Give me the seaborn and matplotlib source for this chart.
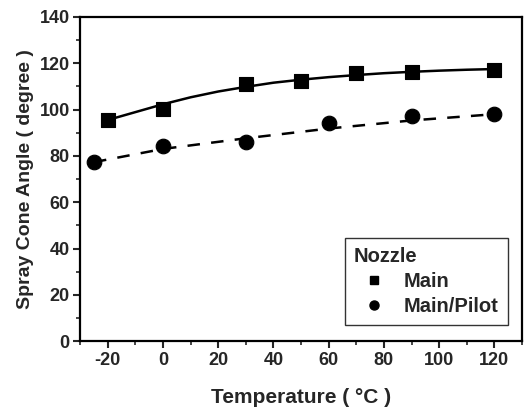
import numpy as np
import pandas as pd
import matplotlib
matplotlib.use('Agg')
import matplotlib.pyplot as plt
from matplotlib.lines import Line2D
from matplotlib.ticker import MultipleLocator
import seaborn as sns

# 測定点
temp_main = [-20, 0, 30, 50, 70, 90, 120]
angle_main = [95.6, 100.3, 110.9, 112.2, 116.0, 116.3, 117.2]
temp_pilot = [-25, 0, 30, 60, 90, 120]
angle_pilot = [77.2, 84.3, 86.1, 94.0, 97.1, 97.9]

# フィット曲線
fit_temp_main = [-20, 0, 10, 20, 30, 40, 50, 60, 70, 80, 90, 100, 110, 120]
fit_angle_main = [95.5, 102.3, 105.3, 107.8, 109.8, 111.6, 112.9, 114.0, 114.9, 115.7, 116.3, 116.8, 117.2, 117.5]
fit_temp_pilot = [-25, 0, 30, 60, 90, 120]
fit_angle_pilot = [77.3, 83.0, 87.6, 91.8, 95.3, 98.0]

sns.set_style('ticks')
plt.rcParams['font.family'] = ['Liberation Sans', 'DejaVu Sans']
plt.rcParams['font.weight'] = 'bold'
plt.rcParams['axes.unicode_minus'] = False

df_main = pd.DataFrame({'t': temp_main, 'a': angle_main})
df_pilot = pd.DataFrame({'t': temp_pilot, 'a': angle_pilot})
df_fit_main = pd.DataFrame({'t': fit_temp_main, 'a': fit_angle_main})
df_fit_pilot = pd.DataFrame({'t': fit_temp_pilot, 'a': fit_angle_pilot})

fig, ax = plt.subplots(figsize=(5.31, 4.13), dpi=100)
fig.subplots_adjust(left=0.151, right=0.983, top=0.959, bottom=0.174)

sns.lineplot(data=df_fit_main, x='t', y='a', color='black', lw=1.8, ax=ax)
sns.lineplot(data=df_fit_pilot, x='t', y='a', color='black', lw=1.8, ax=ax, dashes=False)
ax.lines[-1].set_linestyle((0, (5, 4.5)))
sns.scatterplot(data=df_main, x='t', y='a', marker='s', s=100, color='black', edgecolor='black', ax=ax, zorder=3)
sns.scatterplot(data=df_pilot, x='t', y='a', marker='o', s=110, color='black', edgecolor='black', ax=ax, zorder=3)

ax.set_xlim(-30, 130)
ax.set_ylim(0, 140)
ax.xaxis.set_major_locator(MultipleLocator(20))
ax.xaxis.set_minor_locator(MultipleLocator(10))
ax.yaxis.set_major_locator(MultipleLocator(20))
ax.yaxis.set_minor_locator(MultipleLocator(10))
ax.tick_params(axis='both', which='major', direction='out', length=5, width=1.5, labelsize=13, pad=2.5)
ax.tick_params(axis='both', which='minor', direction='out', length=3, width=1.2)
for lab in ax.get_xticklabels() + ax.get_yticklabels():
    lab.set_fontweight('bold')
for sp in ax.spines.values():
    sp.set_linewidth(1.6)
    sp.set_color('black')

ax.set_xlabel('Temperature ( °C )', fontsize=15, fontweight='bold', labelpad=14)
ax.set_ylabel('Spray Cone Angle ( degree )', fontsize=14, fontweight='bold', labelpad=4)

handles = [
    Line2D([], [], marker='s', color='black', ls='none', markersize=6),
    Line2D([], [], marker='o', color='black', ls='none', markersize=6.5),
]
leg = ax.legend(handles, ['Main', 'Main/Pilot'], title='Nozzle', loc='lower right',
                bbox_to_anchor=(0.968, 0.05), fontsize=14.5, title_fontsize=14.5,
                frameon=True, fancybox=False, edgecolor='black', handletextpad=0.5,
                borderpad=0.45, labelspacing=0.3, borderaxespad=0)
leg._legend_box.align = 'left'
leg.get_title().set_fontweight('bold')
leg.get_frame().set_linewidth(1.0)

plt.savefig('out.png', dpi=100)
